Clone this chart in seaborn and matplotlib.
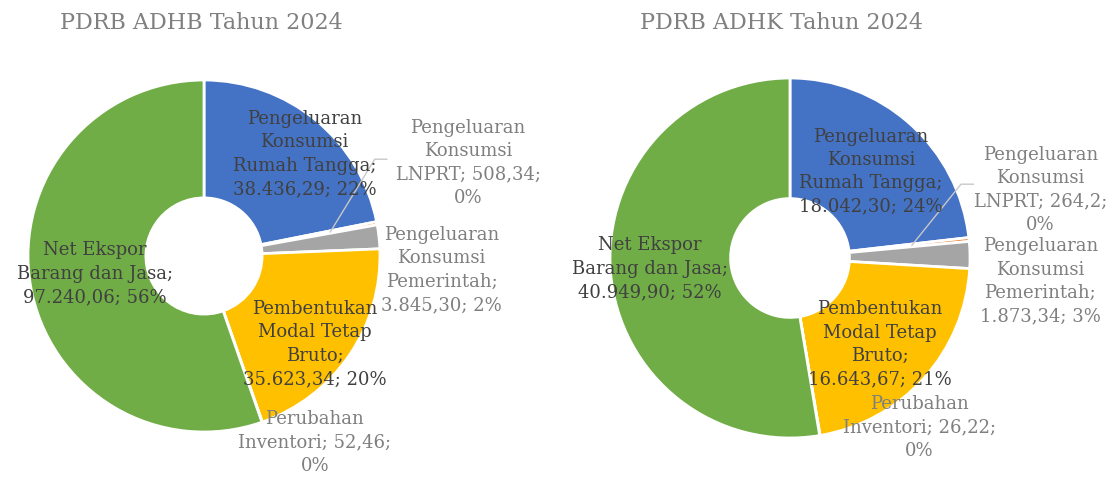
import matplotlib
matplotlib.use("Agg")
import matplotlib.pyplot as plt
import seaborn as sns
import numpy as np

sns.set_theme(style="white")
plt.rcParams["font.family"] = ["DejaVu Serif"]

# --------------------------------------------------
# Data
# --------------------------------------------------

label_templates = [
    "Pengeluaran\nKonsumsi\nRumah Tangga;\n{v}; {p}",
    "Pengeluaran\nKonsumsi\nLNPRT; {v};\n{p}",
    "Pengeluaran\nKonsumsi\nPemerintah;\n{v}; {p}",
    "Pembentukan\nModal Tetap\nBruto;\n{v}; {p}",
    "Perubahan\nInventori; {v};\n{p}",
    "Net Ekspor\nBarang dan Jasa;\n{v}; {p}",
]

adhb_values = [38436.29, 508.34, 3845.30, 35623.34, 52.46, 97240.06]
adhb_text = ["38.436,29", "508,34", "3.845,30", "35.623,34", "52,46", "97.240,06"]
adhb_pct = ["22%", "0%", "2%", "20%", "0%", "56%"]

adhk_values = [18042.30, 264.2, 1873.34, 16643.67, 26.22, 40949.90]
adhk_text = ["18.042,30", "264,2", "1.873,34", "16.643,67", "26,22", "40.949,90"]
adhk_pct = ["24%", "0%", "3%", "21%", "0%", "52%"]

colors = ["#4472C4", "#ED7D31", "#A5A5A5", "#FFC000", "#5B9BD5", "#70AD47"]

# label positions (radius units from centre), inside flag
adhb_pos = [(0.57, 0.58, True), (1.50, 0.53, False), (1.35, -0.08, False),
            (0.63, -0.50, True), (0.63, -1.06, False), (-0.62, -0.10, True)]
adhk_pos = [(0.45, 0.48, True), (1.39, 0.38, False), (1.39, -0.13, False),
            (0.50, -0.48, True), (0.72, -0.94, False), (-0.78, -0.06, True)]

W, H = 1110, 480
fig = plt.figure(figsize=(W / 100, H / 100), dpi=100)


def donut(x0, width, cx, cy, R, values, text, pct, pos, title, title_x, leaders):
    ax = fig.add_axes([x0 / W, 0, width / W, 1])
    wedges, _ = ax.pie(
        values,
        colors=colors,
        startangle=90,
        counterclock=False,
        radius=1.0,
        wedgeprops=dict(width=0.67, edgecolor="white", linewidth=2),
    )
    ax.set_xlim(-cx / R, (width - cx) / R)
    ax.set_ylim(-(H - cy) / R, cy / R)
    ax.set_aspect("equal", adjustable="box")
    ax.axis("off")

    for i, (dx, dy, inside) in enumerate(pos):
        ax.text(dx, dy, label_templates[i].format(v=text[i], p=pct[i]),
                ha="center", va="center", fontsize=13, linespacing=1.38,
                color="#404040" if inside else "#7f7f7f")

    for i, r0, end in leaders:
        w = wedges[i]
        ang = np.deg2rad((w.theta1 + w.theta2) / 2)
        x1, y1 = r0 * np.cos(ang), r0 * np.sin(ang)
        ax.plot([x1, end[0], end[0] + 0.07], [y1, end[1], end[1]],
                color="#c8c8c8", linewidth=1)

    ax.text((title_x - cx) / R, (cy - 23) / R, title,
            ha="center", va="center", fontsize=16, color="#808080")


donut(0, 555, 204, 256, 176, adhb_values, adhb_text, adhb_pct, adhb_pos,
      "PDRB ADHB Tahun 2024", 201, [(1, 0.73, (0.97, 0.55))])
donut(555, 555, 235, 258, 180, adhk_values, adhk_text, adhk_pct, adhk_pos,
      "PDRB ADHK Tahun 2024", 227, [(1, 0.68, (0.95, 0.41))])

plt.savefig("out.png", dpi=100)
plt.close()
